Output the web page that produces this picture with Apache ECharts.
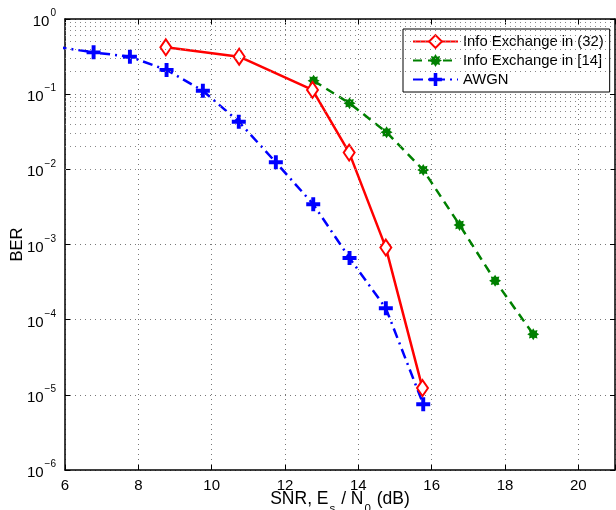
<!DOCTYPE html>
<html style="height: 100%">
<head>
<meta charset="utf-8">
</head>
<body style="height: 100%; margin: 0; background: #fff">
<div id="container" style="width: 616px; height: 510px"></div>
<script src="https://cdn.jsdelivr.net/npm/echarts@6/dist/echarts.min.js"></script>
<script>
var dom = document.getElementById('container');
var myChart = echarts.init(dom);

// BER curves: [SNR (dB), BER]
var infoExchange32 = [
    [8.75, 0.42], [10.75, 0.315], [12.75, 0.114], [13.75, 0.0167],
    [14.75, 9.1e-4], [15.75, 1.23e-5]
];
var infoExchange14 = [
    [12.78, 0.151], [13.76, 0.0757], [14.77, 0.0311], [15.77, 0.0098],
    [16.76, 1.82e-3], [17.73, 3.3e-4], [18.77, 6.4e-5]
];
var awgn = [
    [5.77, 0.425], [6.78, 0.36], [7.77, 0.315], [8.77, 0.21], [9.76, 0.111],
    [10.74, 0.043], [11.75, 0.0124], [12.77, 3.43e-3], [13.76, 6.6e-4],
    [14.75, 1.42e-4], [15.77, 7.5e-6]
];
var seriesNames = ['Info Exchange in (32)', 'Info Exchange in [14]', 'AWGN'];

var FONT = 'Liberation Sans, Arial, Helvetica, sans-serif';

// minor grid lines of the log axis (2..9 x each decade)
var minorLines = [];
for (var e = -6; e < 0; e++) {
    for (var m = 2; m <= 9; m++) {
        minorLines.push({yAxis: m * Math.pow(10, e)});
    }
}

var starPath = 'path://M20,10L16,12.49L17.07,17.07L12.49,16L10,20L7.51,16L2.93,17.07L4,12.49L0,10L4,7.51L2.93,2.93L7.51,4L10,0L12.49,4L17.07,2.93L16,7.51Z';
var plusPath = 'path://M3.6,0H6.4V3.6H10V6.4H6.4V10H3.6V6.4H0V3.6H3.6Z';

function logLabel(v) {
    var ex = Math.round(Math.log10(v));
    return '{b|10}{sup|' + (ex < 0 ? '\u2212' + (-ex) : ex) + '}';
}

var dotted = {color: '#777', type: [1, 4], width: 1};
var frame = {show: true, onZero: false, lineStyle: {color: '#000', width: 1.5}};
var ticks = {inside: true, length: 5, lineStyle: {color: '#000'}};

option = {
    animation: false,
    textStyle: {fontFamily: FONT},
    grid: {left: 65, right: 1, top: 19, bottom: 40, containLabel: false, outerBoundsMode: 'none'},
    legend: {
        data: seriesNames,
        orient: 'vertical',
        left: 403,
        top: 29,
        padding: [5, 6, 5, 9],
        itemGap: 4,
        itemWidth: 45,
        itemHeight: 16,
        backgroundColor: '#fff',
        borderColor: '#000',
        borderWidth: 1,
        borderRadius: 0,
        textStyle: {fontSize: 14.8, color: '#000', fontFamily: FONT}
    },
    xAxis: [{
        type: 'value',
        min: 6,
        max: 21,
        interval: 2,
        name: '{t|SNR, E}{s|s}{t| / N}{s|0}{t| (dB)}',
        nameLocation: 'middle',
        nameGap: 20,
        nameMoveOverlap: false,
        nameTextStyle: {
            rich: {
                t: {fontSize: 17.5, color: '#000', fontFamily: FONT, lineHeight: 25, verticalAlign: 'top'},
                s: {fontSize: 11.5, color: '#000', fontFamily: FONT, lineHeight: 25, verticalAlign: 'bottom', padding: [0, 1, 0, 1]}
            }
        },
        axisLine: frame,
        axisTick: ticks,
        axisLabel: {
            margin: 8, fontSize: 15, color: '#000', fontFamily: FONT,
            formatter: function (v) { return v > 20 ? '' : v; }
        },
        splitLine: {show: true, lineStyle: dotted}
    }, {
        type: 'value',
        position: 'top',
        min: 6,
        max: 21,
        interval: 2,
        axisLine: frame,
        axisTick: ticks,
        axisLabel: {show: false},
        splitLine: {show: false}
    }],
    yAxis: [{
        type: 'log',
        logBase: 10,
        min: 1e-6,
        max: 1,
        name: 'BER',
        nameLocation: 'middle',
        nameGap: 39,
        nameMoveOverlap: false,
        nameTextStyle: {fontSize: 16.5, color: '#000', fontFamily: FONT},
        axisLine: frame,
        axisTick: ticks,
        axisLabel: {
            margin: 9,
            formatter: logLabel,
            rich: {
                b: {fontSize: 15, color: '#000', fontFamily: FONT, lineHeight: 21, verticalAlign: 'bottom'},
                sup: {fontSize: 10, color: '#000', fontFamily: FONT, lineHeight: 21, verticalAlign: 'top', padding: [0, 0, 0, 1]}
            }
        },
        splitLine: {show: true, lineStyle: dotted}
    }, {
        type: 'log',
        logBase: 10,
        min: 1e-6,
        max: 1,
        position: 'right',
        axisLine: frame,
        axisTick: ticks,
        axisLabel: {show: false},
        splitLine: {show: false}
    }],
    series: [{
        name: 'grid-minor',
        type: 'line',
        data: [],
        silent: true,
        markLine: {
            silent: true,
            symbol: 'none',
            label: {show: false},
            lineStyle: {color: '#888', type: [1, 4], width: 1},
            data: minorLines
        }
    }, {
        name: seriesNames[0],
        type: 'line',
        data: infoExchange32,
        z: 4,
        symbol: 'diamond',
        symbolSize: [11, 16],
        itemStyle: {color: '#fff', borderColor: '#ff0000', borderWidth: 2},
        lineStyle: {color: '#ff0000', width: 2.5}
    }, {
        name: seriesNames[1],
        type: 'line',
        data: infoExchange14,
        z: 3,
        symbol: starPath,
        symbolSize: 12,
        itemStyle: {color: '#008000', borderWidth: 0},
        lineStyle: {color: '#008000', width: 2.5, type: [9, 6]}
    }, {
        name: seriesNames[2],
        type: 'line',
        data: awgn,
        z: 3,
        clip: true,
        symbol: plusPath,
        symbolSize: 14,
        itemStyle: {color: '#0000ff', borderWidth: 0},
        lineStyle: {color: '#0000ff', width: 2.5, type: [10, 5, 2, 5]}
    }]
};

myChart.setOption(option, true);
</script>
</body>
</html>
